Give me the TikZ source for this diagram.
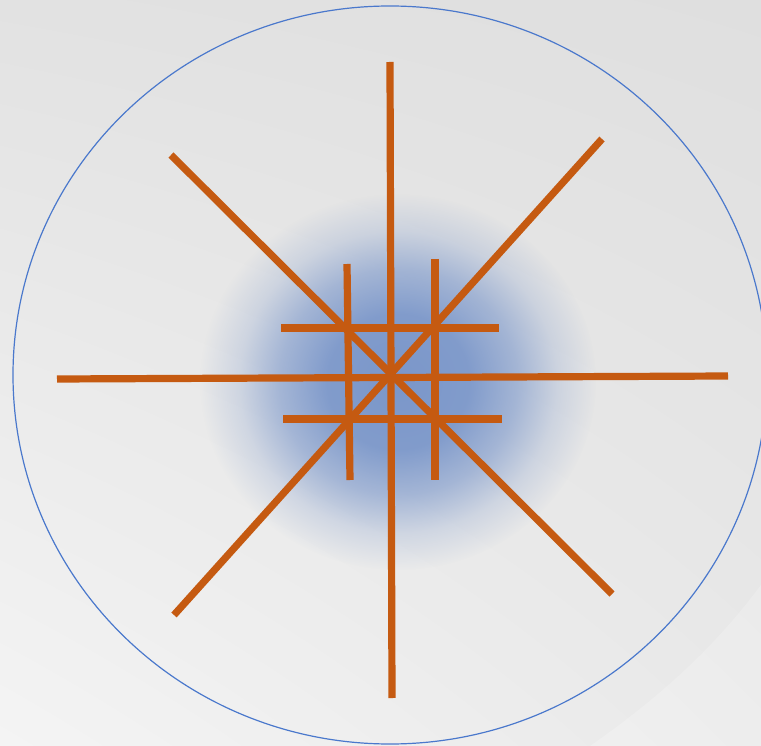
\documentclass[tikz,border=0pt]{standalone}
\usepackage{tikz}
\usetikzlibrary{fadings,shadings}
\definecolor{rayorange}{HTML}{C55A11}
\definecolor{ringblue}{HTML}{4A78CC}
\definecolor{glowblue}{HTML}{7B97CA}
\definecolor{bgtop}{HTML}{E2E2E2}
\definecolor{bgright}{HTML}{DFDFDF}
\definecolor{bglow}{HTML}{F4F4F4}
\definecolor{bgmid}{HTML}{E9E9E9}
\tikzset{
  % --- strokes ---------------------------------------------------------------
  ray/.style={rayorange,line width=7.2pt},
  ring/.style={ringblue,line width=1.2pt},
  band/.style={white,opacity=0.2},
}
% flat core, then a soft edge out to the rim of the glow
\pgfdeclareradialshading{glowmask}{\pgfpointorigin}{%
  color(0bp)=(white); color(9bp)=(white!94!black);
  color(15bp)=(white!62!black); color(20bp)=(white!24!black);
  color(25bp)=(black); color(50bp)=(black)}
\pgfdeclarefading{glowfade}{\pgfuseshading{glowmask}}

\begin{document}
\begin{tikzpicture}[x=1pt,y=-1pt]
  \useasboundingbox (0,0) rectangle (761,746);
  \clip (0,0) rectangle (761,746);

  % backdrop
  \shade[upper left=bgtop,upper right=bgright,lower left=bglow,lower right=bgmid]
        (0,0) rectangle (761,746);
  \fill[band] (590,746) .. controls (670,690) and (720,640) .. (761,585)
        -- (761,746) -- cycle;

  % glow behind the hub
  \fill[glowblue,path fading=glowfade] (398,382) ellipse [x radius=198,y radius=188];

  % outer ring
  \coordinate (mid) at (390,375);
  \draw[ring] (mid) ellipse [x radius=377,y radius=369];

  % long rays through the hub
  \foreach \ax/\ay/\bx/\by in {390/62/392/698, 57/379/728/376,
                               171/155/612/594, 602/139/174/615}
  {
    \draw[ray] (\ax,\ay) -- (\bx,\by);
  }

  % short grid bars round the hub
  \foreach \ax/\ay/\bx/\by in {281/328/499/328, 283/419/502/419,
                               347/264/350/480, 435/259/435/480}
  {
    \draw[ray] (\ax,\ay) -- (\bx,\by);
  }
\end{tikzpicture}
\end{document}
